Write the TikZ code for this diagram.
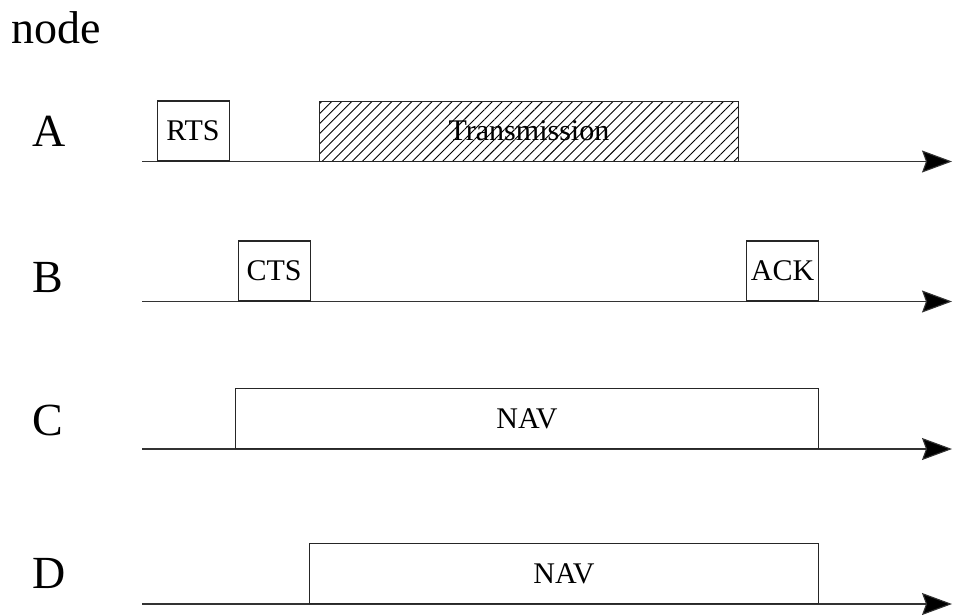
\documentclass[tikz,border=0pt]{standalone}
\usepackage{fontspec}
\setmainfont{Liberation Serif}
\usetikzlibrary{arrows.meta,patterns.meta}

\tikzset{
  axis/.style={line width=1.1pt, draw=black!80,
    -{Stealth[length=30pt,width=22pt,inset=4pt,fill=black]}},
  frame/.style={draw=black!85, line width=1.1pt, rectangle, inner sep=0pt,
    anchor=south west, font=\fontsize{30}{32}\selectfont},
  hatched/.style={frame, pattern={Lines[angle=45,distance=7.1pt,line width=0.9pt]},
    pattern color=black},
  rowlabel/.style={anchor=base west, inner sep=0pt, font=\fontsize{46}{50}\selectfont}
}

\begin{document}
\begin{tikzpicture}[x=1pt,y=-1pt]
  \useasboundingbox (0,0) rectangle (955,614);

  % title and row labels
  \node[rowlabel] (title) at (11,43) {node};
  \node[rowlabel] (lA) at (32,146) {A};
  \node[rowlabel] (lB) at (32,292) {B};
  \node[rowlabel] (lC) at (32,435) {C};
  \node[rowlabel] (lD) at (32,588) {D};

  % time axes
  \coordinate (As) at (142,161.5);  \coordinate (Ae) at (952,161.5);
  \coordinate (Bs) at (142,301.5);  \coordinate (Be) at (952,301.5);
  \coordinate (Cs) at (142,449);    \coordinate (Ce) at (952,449);
  \coordinate (Ds) at (142,604);    \coordinate (De) at (952,604);
  \draw[axis] (As) -- (Ae);
  \draw[axis] (Bs) -- (Be);
  \draw[axis] (Cs) -- (Ce);
  \draw[axis] (Ds) -- (De);

  % node A: RTS and data frame
  \node[frame, minimum width=72pt, minimum height=60pt] (rts) at (156.5,161.5) {RTS};
  \node[hatched, minimum width=419pt, minimum height=60pt] (tx) at (319,161.5) {Transmission};

  % node B: CTS and ACK
  \node[frame, minimum width=72pt, minimum height=60pt] (cts) at (237.5,301.5) {CTS};
  \node[frame, minimum width=72pt, minimum height=60pt] (ack) at (746,301.5) {ACK};

  % nodes C and D: network allocation vectors
  \node[frame, minimum width=583pt, minimum height=60pt] (navc) at (235,449) {NAV};
  \node[frame, minimum width=509pt, minimum height=60pt] (navd) at (309,604) {NAV};
\end{tikzpicture}
\end{document}
